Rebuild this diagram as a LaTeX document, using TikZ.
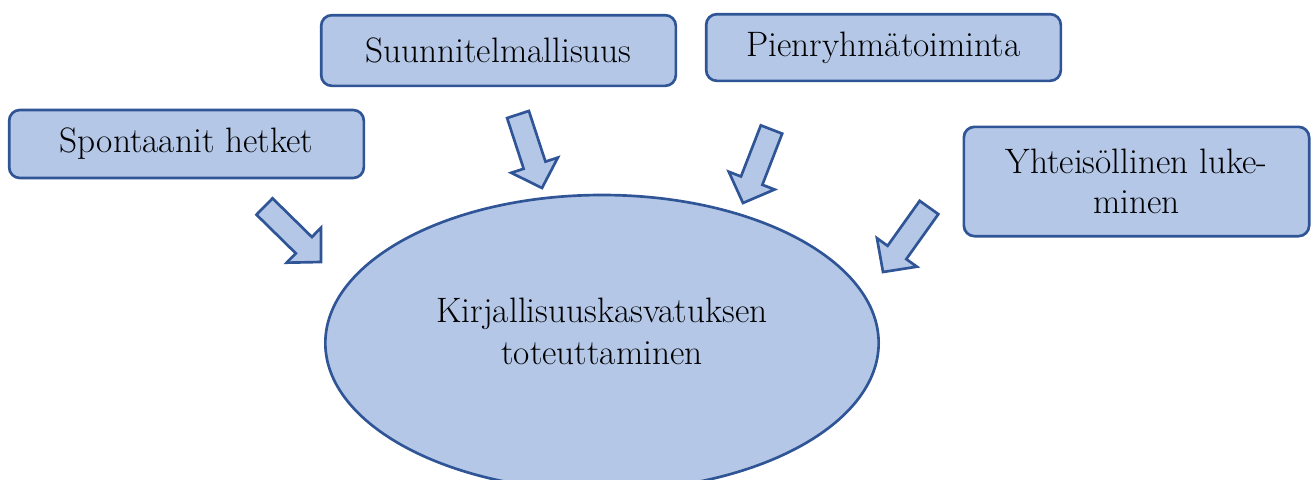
\documentclass[tikz,border=0pt]{standalone}
\usetikzlibrary{calc,shapes.geometric}
\definecolor{boxfill}{HTML}{B4C7E7}
\definecolor{boxline}{HTML}{2F5597}
\newcommand{\blockarr}[3]{% name, tail, tip
  \coordinate (#1-t) at #2;
  \coordinate (#1-p) at #3;
  \coordinate (#1-h) at ($(#1-p)!18pt!(#1-t)$);
  \draw[blk] ($(#1-t)!8.6pt!90:(#1-p)$) -- ($(#1-h)!8.6pt!-90:(#1-t)$) -- ($(#1-h)!18.4pt!-90:(#1-t)$) -- (#1-p) -- ($(#1-h)!18.4pt!90:(#1-t)$) -- ($(#1-h)!8.6pt!90:(#1-t)$) -- ($(#1-t)!8.6pt!-90:(#1-p)$) -- cycle;
}
\begin{document}
\begin{tikzpicture}[x=0.75pt,y=-0.75pt,
  box/.style={draw=boxline, fill=boxfill, line width=2pt, rounded corners=8pt, inner sep=0pt},
  lbl/.style={font=\fontsize{26.5}{30}\selectfont, align=center},
  blk/.style={draw=boxline, fill=boxfill, line width=2pt, line join=miter}]
\useasboundingbox (0,0) rectangle (1311,479);
\clip (0,0) rectangle (1311,479);
\node (sp) [box, lbl, minimum width=266pt, minimum height=51pt] at (186.5,144) {Spontaanit hetket};
\node (su) [box, lbl, minimum width=266pt, minimum height=53pt] at (498.5,50.5) {Suunnitelmallisuus};
\node (pi) [box, lbl, minimum width=266pt, minimum height=50pt] at (883.5,47.5) {Pienryhmätoiminta};
\node (yh) [box, lbl, minimum width=259pt, minimum height=82pt] at (1136.5,181.5) {Yhteisöllinen luke-\\minen};
\node (ell) [ellipse, draw=boxline, fill=boxfill, line width=2pt, minimum width=415pt, minimum height=222pt] at (602,343) {};
\node (elltext) [lbl, font=\fontsize{26.5}{31.5}\selectfont] at (602,331) {Kirjallisuuskasvatuksen\\toteuttaminen};
\blockarr{a1}{(264.5,206.5)}{(321,262)}
\blockarr{a2}{(518,114.5)}{(542,188)}
\blockarr{a3}{(771.5,129.5)}{(743,203)}
\blockarr{a4}{(929,207.5)}{(883,272)}
\end{tikzpicture}
\end{document}
